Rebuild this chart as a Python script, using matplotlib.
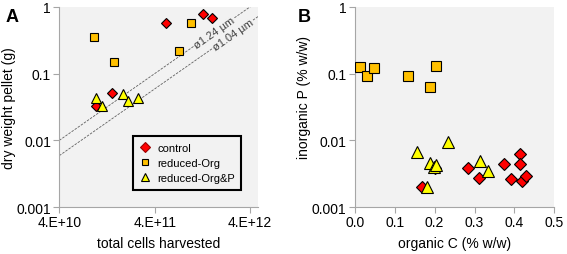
import matplotlib.pyplot as plt
from matplotlib.lines import Line2D
from matplotlib.ticker import FixedLocator, FixedFormatter, NullLocator
import numpy as np

plt.rcParams['font.family'] = ['Liberation Sans', 'DejaVu Sans']

# panel A: total cells harvested vs dry weight pellet
ctrl_cells = [5.2e11, 1.29e12, 1.6e12, 1.42e11, 9.6e10]
ctrl_wt = [0.575, 0.785, 0.68, 0.0508, 0.033]
org_cells = [9.2e10, 1.5e11, 9.57e11, 7.2e11]
org_wt = [0.355, 0.148, 0.575, 0.219]
orgp_cells = [9.8e10, 1.11e11, 1.87e11, 2.1e11, 2.69e11]
orgp_wt = [0.0437, 0.033, 0.049, 0.0395, 0.0437]

# reference lines (g per cell) for two cell diameters
diam = [1.24, 1.04]
g_per_cell = [2.5e-13, 2.5e-13 * (1.04 / 1.24) ** 3]

# panel B: organic C vs inorganic P
ctrl_c = [0.167, 0.201, 0.283, 0.310, 0.375, 0.391, 0.413, 0.414, 0.418, 0.430]
ctrl_p = [0.0020, 0.00386, 0.00382, 0.0027, 0.00443, 0.00264, 0.00617, 0.00437, 0.00246, 0.00294]
org_c = [0.0125, 0.031, 0.047, 0.134, 0.188, 0.203]
org_p = [0.127, 0.093, 0.122, 0.093, 0.0638, 0.130]
orgp_c = [0.234, 0.156, 0.188, 0.199, 0.181, 0.313, 0.333, 0.203]
orgp_p = [0.00957, 0.00676, 0.00463, 0.00404, 0.00199, 0.00496, 0.00348, 0.0042]

red = '#ff0000'
orange = '#ffc000'
yellow = '#ffff00'
bg = '#f2f2f2'
spine = '#a6a6a6'

fig = plt.figure(figsize=(5.67, 2.55), dpi=100)
axA = fig.add_axes([0.1046, 0.184, 0.3504, 0.785])
axB = fig.add_axes([0.626, 0.184, 0.3516, 0.785])

yticks = [0.001, 0.01, 0.1, 1]
ylabels = ['0.001', '0.01', '0.1', '1']

for ax in (axA, axB):
    ax.set_facecolor(bg)
    ax.set_yscale('log')
    ax.set_ylim(0.001, 1)
    ax.yaxis.set_major_locator(FixedLocator(yticks))
    ax.yaxis.set_major_formatter(FixedFormatter(ylabels))
    ax.yaxis.set_minor_locator(NullLocator())
    for s in ('top', 'right'):
        ax.spines[s].set_visible(False)
    for s in ('left', 'bottom'):
        ax.spines[s].set_color(spine)
        ax.spines[s].set_linewidth(0.8)
    ax.tick_params(length=4, width=0.8, color=spine, labelsize=10, pad=2)

# --- A ---
axA.set_xscale('log')
axA.set_xlim(4e10, 4.85e12)
axA.xaxis.set_major_locator(FixedLocator([4e10, 4e11, 4e12]))
axA.xaxis.set_major_formatter(FixedFormatter(['4.E+10', '4.E+11', '4.E+12']))
axA.xaxis.set_minor_locator(NullLocator())

xs = np.array([4e10, 4.85e12])
label_x = [1.68e12, 2.66e12]
for d, k, lx in zip(diam, g_per_cell, label_x):
    axA.plot(xs, k * xs, color='#606060', lw=0.6, ls=(0, (3, 1.5)), zorder=1)
    axA.text(lx, k * lx, 'ø%.2f µm' % d, fontsize=8, color='#404040',
             rotation=35, ha='center', va='center', zorder=2,
             bbox=dict(facecolor=bg, edgecolor='none', pad=0.5))

axA.plot(ctrl_cells, ctrl_wt, 'D', ms=5, mfc=red, mec='black', mew=0.8, zorder=3)
axA.plot(org_cells, org_wt, 's', ms=6.3, mfc=orange, mec='black', mew=0.8, zorder=3)
axA.plot(orgp_cells, orgp_wt, '^', ms=7, mfc=yellow, mec='black', mew=0.8, zorder=3)

axA.set_xlabel('total cells harvested', fontsize=10)
axA.set_ylabel('dry weight pellet (g)', fontsize=10)
axA.xaxis.set_label_coords(0.5, -0.145)
axA.yaxis.set_label_coords(-0.218, 0.5)

handles = [
    Line2D([], [], ls='none', marker='D', ms=5.5, mfc=red, mec='#990000', mew=0.8),
    Line2D([], [], ls='none', marker='s', ms=5, mfc=orange, mec='black', mew=0.8),
    Line2D([], [], ls='none', marker='^', ms=5.5, mfc=yellow, mec='black', mew=0.8),
]
leg = axA.legend(handles, ['control', 'reduced-Org', 'reduced-Org&P'],
                 loc='lower left', bbox_to_anchor=(0.369, 0.087), fontsize=8,
                 fancybox=False, framealpha=1, facecolor=bg, edgecolor='black',
                 handlelength=1.0, handletextpad=0.6, labelspacing=0.45,
                 borderpad=0.6, borderaxespad=0)
leg.get_frame().set_linewidth(1.5)

fig.text(0.01, 0.915, 'A', fontsize=13, fontweight='bold')

# --- B ---
axB.set_xlim(0, 0.5)
axB.set_xticks([0.0, 0.1, 0.2, 0.3, 0.4, 0.5])
axB.set_xticklabels(['0.0', '0.1', '0.2', '0.3', '0.4', '0.5'])

axB.plot(ctrl_c, ctrl_p, 'D', ms=6, mfc=red, mec='black', mew=0.8, zorder=3)
axB.plot(org_c, org_p, 's', ms=7.5, mfc=orange, mec='black', mew=0.8, zorder=3)
axB.plot(orgp_c, orgp_p, '^', ms=8, mfc=yellow, mec='black', mew=0.8, zorder=3)

axB.set_xlabel('organic C (% w/w)', fontsize=10)
axB.set_ylabel('inorganic P (% w/w)', fontsize=10)
axB.xaxis.set_label_coords(0.5, -0.145)
axB.yaxis.set_label_coords(-0.22, 0.55)

fig.text(0.525, 0.915, 'B', fontsize=13, fontweight='bold')

fig.savefig('out.png', dpi=100)
